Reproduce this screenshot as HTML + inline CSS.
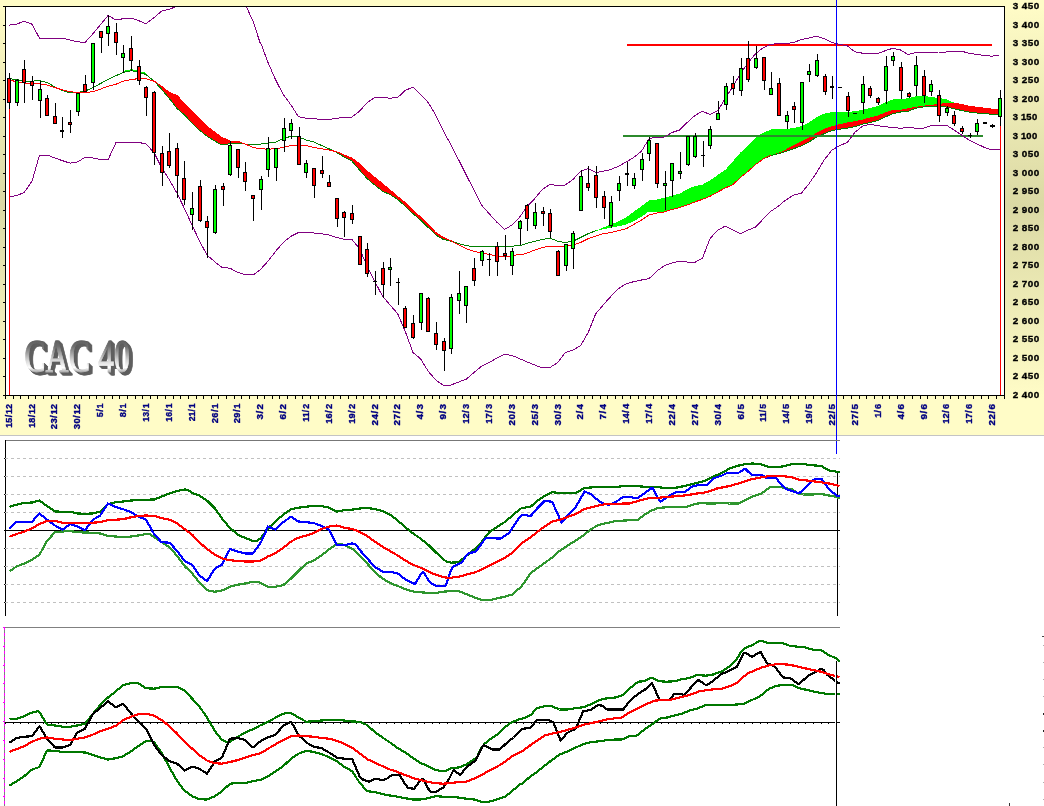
<!DOCTYPE html>
<html lang="fr"><head><meta charset="utf-8"><title>CAC 40</title>
<style>
html,body{margin:0;padding:0;background:#fff;}
body{width:1044px;height:806px;overflow:hidden;font-family:"Liberation Sans",sans-serif;}
svg{display:block;}
.ax{font:bold 9.5px "Liberation Sans",sans-serif;fill:#000;stroke:#000;stroke-width:0.35px;}
.dt{font:bold 9.5px "Liberation Sans",sans-serif;fill:#000080;stroke:#000080;stroke-width:0.35px;}
.wa{font:normal 46px "Liberation Serif",serif;}
</style></head><body>
<svg width="1044" height="806" viewBox="0 0 1044 806">
<defs>
<linearGradient id="bg" x1="0" y1="0" x2="0" y2="1">
<stop offset="0" stop-color="#FFFCC7"/><stop offset="0.014" stop-color="#FFFCC7"/><stop offset="0.47" stop-color="#DBD9A4"/><stop offset="0.915" stop-color="#FFFCC7"/><stop offset="1" stop-color="#FFFCC7"/>
</linearGradient>
<linearGradient id="wa" x1="0" y1="0" x2="0" y2="1">
<stop offset="0" stop-color="#484848"/><stop offset="0.3" stop-color="#6e6e6e"/><stop offset="0.58" stop-color="#d8d8d8"/><stop offset="0.72" stop-color="#ffffff"/><stop offset="0.82" stop-color="#9a9a9a"/><stop offset="1" stop-color="#4a4a4a"/>
</linearGradient>
<filter id="ext" x="-5%" y="-10%" width="115%" height="130%">
<feFlood flood-color="#5e5e5e" result="fc"/>
<feComposite in="fc" in2="SourceAlpha" operator="in" result="sh"/>
<feOffset in="sh" dx="0.72" dy="0.42" result="o0"/>
<feOffset in="sh" dx="1.44" dy="0.85" result="o1"/>
<feOffset in="sh" dx="2.16" dy="1.27" result="o2"/>
<feOffset in="sh" dx="2.88" dy="1.70" result="o3"/>
<feOffset in="sh" dx="3.60" dy="2.12" result="o4"/>
<feOffset in="sh" dx="4.32" dy="2.55" result="o5"/>
<feOffset in="sh" dx="5.04" dy="2.98" result="o6"/>
<feMerge><feMergeNode in="o0"/><feMergeNode in="o1"/><feMergeNode in="o2"/><feMergeNode in="o3"/><feMergeNode in="o4"/><feMergeNode in="o5"/><feMergeNode in="o6"/><feMergeNode in="SourceGraphic"/></feMerge>
</filter>
<clipPath id="cp"><rect x="6" y="7" width="998" height="388"/></clipPath>
</defs>
<rect x="0" y="0" width="1044" height="806" fill="#fff"/>
<rect x="0" y="0" width="1044" height="435" fill="url(#bg)"/>
<rect x="0" y="435" width="1044" height="1" fill="#c4c4c4"/>
<rect x="6" y="7" width="998" height="388" fill="#fff"/>
<g shape-rendering="crispEdges">
<rect x="3" y="6" width="1002" height="1" fill="#000"/>
<rect x="5" y="6" width="1" height="390" fill="#000"/>
<rect x="1004" y="6" width="1" height="390" fill="#000"/>
<rect x="3" y="395" width="1002" height="1" fill="#000"/>
<rect x="3" y="6" width="2" height="1" fill="#000"/>
<rect x="3" y="25" width="2" height="1" fill="#000"/>
<rect x="3" y="43" width="2" height="1" fill="#000"/>
<rect x="3" y="62" width="2" height="1" fill="#000"/>
<rect x="3" y="80" width="2" height="1" fill="#000"/>
<rect x="3" y="99" width="2" height="1" fill="#000"/>
<rect x="3" y="117" width="2" height="1" fill="#000"/>
<rect x="3" y="136" width="2" height="1" fill="#000"/>
<rect x="3" y="154" width="2" height="1" fill="#000"/>
<rect x="3" y="173" width="2" height="1" fill="#000"/>
<rect x="3" y="191" width="2" height="1" fill="#000"/>
<rect x="3" y="210" width="2" height="1" fill="#000"/>
<rect x="3" y="228" width="2" height="1" fill="#000"/>
<rect x="3" y="247" width="2" height="1" fill="#000"/>
<rect x="3" y="265" width="2" height="1" fill="#000"/>
<rect x="3" y="284" width="2" height="1" fill="#000"/>
<rect x="3" y="302" width="2" height="1" fill="#000"/>
<rect x="3" y="321" width="2" height="1" fill="#000"/>
<rect x="3" y="339" width="2" height="1" fill="#000"/>
<rect x="3" y="358" width="2" height="1" fill="#000"/>
<rect x="3" y="376" width="2" height="1" fill="#000"/>
<rect x="3" y="395" width="2" height="1" fill="#000"/>
<rect x="5" y="396" width="1" height="3" fill="#000"/>
<rect x="13" y="396" width="1" height="3" fill="#000"/>
<rect x="20" y="396" width="1" height="3" fill="#000"/>
<rect x="28" y="396" width="1" height="3" fill="#000"/>
<rect x="35" y="396" width="1" height="3" fill="#000"/>
<rect x="43" y="396" width="1" height="3" fill="#000"/>
<rect x="51" y="396" width="1" height="3" fill="#000"/>
<rect x="58" y="396" width="1" height="3" fill="#000"/>
<rect x="66" y="396" width="1" height="3" fill="#000"/>
<rect x="74" y="396" width="1" height="3" fill="#000"/>
<rect x="81" y="396" width="1" height="3" fill="#000"/>
<rect x="89" y="396" width="1" height="3" fill="#000"/>
<rect x="96" y="396" width="1" height="3" fill="#000"/>
<rect x="104" y="396" width="1" height="3" fill="#000"/>
<rect x="112" y="396" width="1" height="3" fill="#000"/>
<rect x="119" y="396" width="1" height="3" fill="#000"/>
<rect x="127" y="396" width="1" height="3" fill="#000"/>
<rect x="135" y="396" width="1" height="3" fill="#000"/>
<rect x="142" y="396" width="1" height="3" fill="#000"/>
<rect x="150" y="396" width="1" height="3" fill="#000"/>
<rect x="157" y="396" width="1" height="3" fill="#000"/>
<rect x="165" y="396" width="1" height="3" fill="#000"/>
<rect x="173" y="396" width="1" height="3" fill="#000"/>
<rect x="180" y="396" width="1" height="3" fill="#000"/>
<rect x="188" y="396" width="1" height="3" fill="#000"/>
<rect x="196" y="396" width="1" height="3" fill="#000"/>
<rect x="203" y="396" width="1" height="3" fill="#000"/>
<rect x="211" y="396" width="1" height="3" fill="#000"/>
<rect x="218" y="396" width="1" height="3" fill="#000"/>
<rect x="226" y="396" width="1" height="3" fill="#000"/>
<rect x="234" y="396" width="1" height="3" fill="#000"/>
<rect x="241" y="396" width="1" height="3" fill="#000"/>
<rect x="249" y="396" width="1" height="3" fill="#000"/>
<rect x="257" y="396" width="1" height="3" fill="#000"/>
<rect x="264" y="396" width="1" height="3" fill="#000"/>
<rect x="272" y="396" width="1" height="3" fill="#000"/>
<rect x="279" y="396" width="1" height="3" fill="#000"/>
<rect x="287" y="396" width="1" height="3" fill="#000"/>
<rect x="295" y="396" width="1" height="3" fill="#000"/>
<rect x="302" y="396" width="1" height="3" fill="#000"/>
<rect x="310" y="396" width="1" height="3" fill="#000"/>
<rect x="318" y="396" width="1" height="3" fill="#000"/>
<rect x="325" y="396" width="1" height="3" fill="#000"/>
<rect x="333" y="396" width="1" height="3" fill="#000"/>
<rect x="340" y="396" width="1" height="3" fill="#000"/>
<rect x="348" y="396" width="1" height="3" fill="#000"/>
<rect x="356" y="396" width="1" height="3" fill="#000"/>
<rect x="363" y="396" width="1" height="3" fill="#000"/>
<rect x="371" y="396" width="1" height="3" fill="#000"/>
<rect x="379" y="396" width="1" height="3" fill="#000"/>
<rect x="386" y="396" width="1" height="3" fill="#000"/>
<rect x="394" y="396" width="1" height="3" fill="#000"/>
<rect x="401" y="396" width="1" height="3" fill="#000"/>
<rect x="409" y="396" width="1" height="3" fill="#000"/>
<rect x="417" y="396" width="1" height="3" fill="#000"/>
<rect x="424" y="396" width="1" height="3" fill="#000"/>
<rect x="432" y="396" width="1" height="3" fill="#000"/>
<rect x="439" y="396" width="1" height="3" fill="#000"/>
<rect x="447" y="396" width="1" height="3" fill="#000"/>
<rect x="455" y="396" width="1" height="3" fill="#000"/>
<rect x="462" y="396" width="1" height="3" fill="#000"/>
<rect x="470" y="396" width="1" height="3" fill="#000"/>
<rect x="478" y="396" width="1" height="3" fill="#000"/>
<rect x="485" y="396" width="1" height="3" fill="#000"/>
<rect x="493" y="396" width="1" height="3" fill="#000"/>
<rect x="500" y="396" width="1" height="3" fill="#000"/>
<rect x="508" y="396" width="1" height="3" fill="#000"/>
<rect x="516" y="396" width="1" height="3" fill="#000"/>
<rect x="523" y="396" width="1" height="3" fill="#000"/>
<rect x="531" y="396" width="1" height="3" fill="#000"/>
<rect x="539" y="396" width="1" height="3" fill="#000"/>
<rect x="546" y="396" width="1" height="3" fill="#000"/>
<rect x="554" y="396" width="1" height="3" fill="#000"/>
<rect x="561" y="396" width="1" height="3" fill="#000"/>
<rect x="569" y="396" width="1" height="3" fill="#000"/>
<rect x="577" y="396" width="1" height="3" fill="#000"/>
<rect x="584" y="396" width="1" height="3" fill="#000"/>
<rect x="592" y="396" width="1" height="3" fill="#000"/>
<rect x="600" y="396" width="1" height="3" fill="#000"/>
<rect x="607" y="396" width="1" height="3" fill="#000"/>
<rect x="615" y="396" width="1" height="3" fill="#000"/>
<rect x="622" y="396" width="1" height="3" fill="#000"/>
<rect x="630" y="396" width="1" height="3" fill="#000"/>
<rect x="638" y="396" width="1" height="3" fill="#000"/>
<rect x="645" y="396" width="1" height="3" fill="#000"/>
<rect x="653" y="396" width="1" height="3" fill="#000"/>
<rect x="661" y="396" width="1" height="3" fill="#000"/>
<rect x="668" y="396" width="1" height="3" fill="#000"/>
<rect x="676" y="396" width="1" height="3" fill="#000"/>
<rect x="683" y="396" width="1" height="3" fill="#000"/>
<rect x="691" y="396" width="1" height="3" fill="#000"/>
<rect x="699" y="396" width="1" height="3" fill="#000"/>
<rect x="706" y="396" width="1" height="3" fill="#000"/>
<rect x="714" y="396" width="1" height="3" fill="#000"/>
<rect x="722" y="396" width="1" height="3" fill="#000"/>
<rect x="729" y="396" width="1" height="3" fill="#000"/>
<rect x="737" y="396" width="1" height="3" fill="#000"/>
<rect x="744" y="396" width="1" height="3" fill="#000"/>
<rect x="752" y="396" width="1" height="3" fill="#000"/>
<rect x="760" y="396" width="1" height="3" fill="#000"/>
<rect x="767" y="396" width="1" height="3" fill="#000"/>
<rect x="775" y="396" width="1" height="3" fill="#000"/>
<rect x="782" y="396" width="1" height="3" fill="#000"/>
<rect x="790" y="396" width="1" height="3" fill="#000"/>
<rect x="798" y="396" width="1" height="3" fill="#000"/>
<rect x="805" y="396" width="1" height="3" fill="#000"/>
<rect x="813" y="396" width="1" height="3" fill="#000"/>
<rect x="821" y="396" width="1" height="3" fill="#000"/>
<rect x="828" y="396" width="1" height="3" fill="#000"/>
<rect x="836" y="396" width="1" height="3" fill="#000"/>
<rect x="843" y="396" width="1" height="3" fill="#000"/>
<rect x="851" y="396" width="1" height="3" fill="#000"/>
<rect x="859" y="396" width="1" height="3" fill="#000"/>
<rect x="866" y="396" width="1" height="3" fill="#000"/>
<rect x="874" y="396" width="1" height="3" fill="#000"/>
<rect x="882" y="396" width="1" height="3" fill="#000"/>
<rect x="889" y="396" width="1" height="3" fill="#000"/>
<rect x="897" y="396" width="1" height="3" fill="#000"/>
<rect x="904" y="396" width="1" height="3" fill="#000"/>
<rect x="912" y="396" width="1" height="3" fill="#000"/>
<rect x="920" y="396" width="1" height="3" fill="#000"/>
<rect x="927" y="396" width="1" height="3" fill="#000"/>
<rect x="935" y="396" width="1" height="3" fill="#000"/>
<rect x="943" y="396" width="1" height="3" fill="#000"/>
<rect x="950" y="396" width="1" height="3" fill="#000"/>
<rect x="958" y="396" width="1" height="3" fill="#000"/>
<rect x="965" y="396" width="1" height="3" fill="#000"/>
<rect x="973" y="396" width="1" height="3" fill="#000"/>
<rect x="981" y="396" width="1" height="3" fill="#000"/>
<rect x="988" y="396" width="1" height="3" fill="#000"/>
<rect x="996" y="396" width="1" height="3" fill="#000"/>
<rect x="1004" y="396" width="1" height="3" fill="#000"/>
</g>
<g clip-path="url(#cp)" shape-rendering="crispEdges">
<polygon points="154.2,81.2 154.2,81.2 161.5,86.2 169.5,92.5 177.2,95.7 184.5,103.7 192.2,111.2 199.2,118.7 207.0,126.2 215.0,132.5 222.0,137.5 230.0,141.0 238.0,141.5 245.0,143.9 245.0,144.0 238.0,143.5 230.0,143.7 222.0,145.0 215.0,141.2 207.0,136.2 199.2,130.0 192.2,123.2 184.5,115.0 177.2,108.7 169.5,98.7 161.5,89.2 154.2,81.2 154.2,81.2" fill="#ff0000"/>
<polygon points="329.0,150.0 329.0,150.0 336.7,151.7 344.2,155.0 352.0,158.2 359.5,163.7 367.2,171.2 374.7,177.5 382.5,183.7 390.0,190.0 397.7,196.5 405.2,202.5 413.0,210.5 420.5,217.0 428.2,224.5 435.7,232.5 443.5,237.5 451.0,240.7 452.0,241.3 452.0,241.5 451.0,241.2 443.5,239.5 435.7,235.0 428.2,227.5 420.5,220.0 413.0,213.7 405.2,206.2 397.7,199.5 390.0,194.5 382.5,191.2 374.7,185.0 367.2,178.7 359.5,170.0 352.0,161.2 344.2,157.0 336.7,152.5 329.0,148.7 329.0,148.7" fill="#ff0000"/>
<polygon points="596.2,230.5 603.2,227.5 611.0,224.5 618.5,221.2 626.2,217.5 633.7,211.7 641.5,206.2 649.0,200.5 656.7,199.5 664.2,197.7 672.0,195.7 679.5,193.7 687.2,189.2 694.7,186.2 702.5,184.5 710.0,180.5 717.7,175.0 725.2,170.0 733.0,161.2 740.5,152.5 748.2,145.0 755.7,137.5 763.5,132.5 771.0,129.5 778.5,128.7 783.0,129.0 793.7,128.2 801.5,126.2 809.0,122.5 816.7,117.0 824.2,113.7 832.0,112.0 839.5,112.0 847.2,112.0 854.7,111.2 862.5,110.0 870.0,108.0 877.7,106.2 885.2,102.5 893.0,99.5 900.5,99.2 908.2,98.2 915.7,96.2 923.5,95.7 931.0,97.0 938.7,98.0 946.2,99.2 954.0,102.6 954.0,102.6 954.0,102.6 954.0,102.6 946.2,103.1 938.7,103.9 931.0,104.8 923.5,105.7 915.7,106.9 908.2,108.3 900.5,109.8 893.0,110.0 885.2,112.5 877.7,115.5 870.0,117.5 862.5,119.5 854.7,121.2 847.2,122.5 839.5,124.2 832.0,126.2 824.2,128.7 816.7,132.5 809.0,137.5 801.5,141.2 793.7,145.0 783.0,151.0 778.5,152.5 771.0,155.0 763.5,158.7 755.7,164.5 748.2,171.2 740.5,177.5 733.0,184.5 725.2,188.0 717.7,192.0 710.0,196.3 702.5,199.3 694.7,202.0 687.2,205.0 679.5,207.5 672.0,209.5 665.9,211.8 657.2,211.6 648.5,211.6 642.3,216.2 634.8,220.5 626.1,224.6 611.1,227.6 596.2,230.8 596.2,230.8" fill="#00ff00"/>
<polygon points="763.5,158.7 763.5,158.7 771.0,155.0 778.5,152.5 783.0,151.0 793.7,145.0 801.5,141.2 809.0,137.5 816.7,132.5 824.2,128.7 832.0,126.2 839.5,124.2 847.2,122.5 854.7,121.2 862.5,119.5 870.0,117.5 877.7,115.5 885.2,112.5 893.0,110.0 900.5,109.8 908.2,108.3 915.7,106.9 923.5,105.7 931.0,104.8 938.7,103.9 946.2,103.1 954.0,102.6 961.5,103.9 969.0,105.8 976.7,106.7 984.5,107.7 992.0,108.6 999.5,109.3 999.5,109.3 999.5,114.2 999.5,114.2 992.0,114.2 984.5,113.7 976.7,113.0 969.0,112.0 961.5,110.5 954.0,108.7 946.2,107.0 938.7,106.2 931.0,106.2 923.5,107.0 915.7,108.2 908.2,111.2 900.5,112.0 893.0,113.7 885.2,117.0 877.7,120.7 870.0,122.5 862.5,124.2 854.7,126.7 847.2,128.2 839.5,129.2 832.0,130.5 824.2,133.7 816.7,137.0 809.0,142.0 801.5,145.7 793.7,148.7 783.0,152.5 778.5,153.5 771.0,155.5 763.5,158.7 763.5,158.7" fill="#ff0000"/>
<polyline points="763.5,158.7 771.0,155.5 778.5,153.5 783.0,152.5 793.7,148.7 801.5,145.7 809.0,142.0 816.7,137.0 824.2,133.7 832.0,130.5 839.5,129.2 847.2,128.2 854.7,126.7 862.5,124.2 870.0,122.5 877.7,120.7 885.2,117.0 893.0,113.7 900.5,112.0 908.2,111.2 915.7,108.2 923.5,107.0 931.0,106.2 938.7,106.2 946.2,107.0 954.0,108.7 961.5,110.5 969.0,112.0 976.7,113.0 984.5,113.7 992.0,114.2 999.5,114.2" fill="none" stroke="#008000" stroke-width="1"/>
<polyline points="123.2,71.5 131.2,69.7 138.2,71.0 146.0,73.5" fill="none" stroke="#00ff00" stroke-width="1"/>
<polyline points="9.0,78.7 16.5,79.5 24.2,81.2 32.0,81.2 39.5,80.5 47.0,82.5 55.0,87.0 62.5,90.5 70.2,93.0 77.2,92.5 85.0,91.2 93.0,87.5 100.2,83.7 108.0,79.5 116.0,75.7 123.2,72.5 131.2,70.7 138.2,72.0 146.0,74.5 154.2,81.2 161.5,89.2 169.5,98.7 177.2,108.7 184.5,115.0 192.2,123.2 199.2,130.0 207.0,136.2 215.0,141.2 222.0,145.0 230.0,143.7 238.0,143.5 245.2,144.0 253.0,145.0 260.0,144.2 268.0,143.0 275.7,142.0 283.2,138.7 291.0,136.2 298.5,137.0 306.2,140.0 313.7,142.0 321.5,145.5 329.0,148.7 336.7,152.5 344.2,157.0 352.0,161.2 359.5,170.0 367.2,178.7 374.7,185.0 382.5,191.2 390.0,194.5 397.7,199.5 405.2,206.2 413.0,213.7 420.5,220.0 428.2,227.5 435.7,235.0 443.5,239.5 451.0,241.2 458.7,243.7 466.2,245.7 474.0,246.5 481.5,246.2 489.2,246.2 496.7,246.2 504.5,246.7 512.0,246.2 519.7,245.5 522.0,245.0 527.2,243.2 534.7,241.2 542.5,239.5 550.0,238.2 557.7,241.2 565.2,242.5 573.0,241.2 580.5,237.5 588.2,233.7 595.7,230.7" fill="none" stroke="#008000" stroke-width="1"/>
<polyline points="9.0,80.0 16.5,81.7 24.2,83.0 32.0,83.2 39.5,83.7 47.0,85.0 55.0,87.5 62.5,90.0 70.2,91.7 77.2,92.5 85.0,92.5 93.0,91.7 100.2,89.2 108.0,86.2 116.0,84.2 123.2,81.2 131.2,79.5 138.2,78.7 146.0,78.7 154.2,81.2 161.5,86.2 169.5,92.5 177.2,95.7 184.5,103.7 192.2,111.2 199.2,118.7 207.0,126.2 215.0,132.5 222.0,137.5 230.0,141.0 238.0,141.5 245.2,144.0 253.0,147.5 260.0,148.7 268.0,149.2 275.7,148.7 283.2,147.5 291.0,145.5 298.5,145.0 306.2,145.5 313.7,147.5 321.5,148.7 329.0,150.0 336.7,151.7 344.2,155.0 352.0,158.2 359.5,163.7 367.2,171.2 374.7,177.5 382.5,183.7 390.0,190.0 397.7,196.5 405.2,202.5 413.0,210.5 420.5,217.0 428.2,224.5 435.7,232.5 443.5,237.5 451.0,240.7 458.7,245.0 466.2,248.7 474.0,251.2 481.5,253.0 489.2,254.5 496.7,255.7 504.5,256.7 512.0,255.7 519.7,254.5 522.0,254.5 527.2,253.0 534.7,250.0 542.5,247.5 550.0,246.2 557.7,246.7 565.2,246.2 573.0,245.0 580.5,242.5 588.2,238.7 595.7,236.2 603.2,233.7 611.0,232.5 618.5,230.7 626.2,228.7 633.7,224.5 641.5,220.0 649.0,215.0 656.7,213.0 664.2,212.0 672.0,209.5 679.5,207.5 687.2,205.0 694.7,202.0 702.5,199.3 710.0,196.3 717.7,192.0 725.2,188.0 733.0,184.5 740.5,177.5 748.2,171.2 755.7,164.5 763.5,158.7 771.0,155.0" fill="none" stroke="#ff0000" stroke-width="1"/>
<rect x="627" y="44" width="365" height="2" fill="#ff0000"/>
<rect x="623" y="135" width="360" height="2" fill="#2c8a2c"/>
<polyline points="9.0,25.2 16.5,24.2 24.2,21.2 32.0,24.2 39.5,38.2 47.0,38.2 62.5,38.2 70.2,40.0 77.2,41.7 85.0,42.5 93.0,33.7 100.2,25.0 108.0,15.5 116.0,20.0 123.2,18.7 131.2,18.2 138.2,20.5 146.0,23.7 154.2,17.5 161.5,11.2 169.5,9.2 177.2,6.2 185.0,3.0" fill="none" stroke="#800080" stroke-width="1"/>
<polyline points="244.0,3.0 246.2,6.2 253.0,21.2 260.0,42.5 261.0,43.7 268.0,62.5 275.7,80.0 283.2,94.5 291.0,105.0 298.5,116.7 306.2,118.2 313.7,118.7 321.5,119.5 329.0,119.5 336.7,118.2 344.2,117.5 352.0,117.0 359.5,111.2 367.2,102.5 374.7,97.5 382.5,97.5 390.0,98.2 397.7,97.5 405.2,90.5 413.0,87.0 420.5,94.5 428.2,102.5 435.7,115.0 443.5,131.2 451.0,145.0 458.7,160.0 466.2,175.0 474.0,190.0 481.5,205.0 489.2,213.7 496.7,222.0 504.5,229.5 512.0,225.0 519.7,217.0 522.0,213.7 527.2,206.2 534.7,198.7 542.5,189.2 550.0,184.5 557.7,185.5 565.2,185.0 573.0,179.5 580.5,171.2 588.2,168.7 595.7,172.5 603.2,171.2 611.0,169.5 618.5,166.2 626.2,162.0 633.7,157.5 641.5,151.2 649.0,138.7 656.7,137.0 664.2,137.0 672.0,132.5 679.5,130.0 687.2,122.5 694.7,115.7 702.5,111.2 710.0,114.5 717.7,110.7 725.2,98.7 733.0,86.2 740.5,73.7 748.2,62.5 755.7,53.7 763.5,47.5 771.0,44.2 778.5,43.7 783.0,44.0 793.7,42.5 801.5,39.5 809.0,38.0 816.7,36.2 824.2,38.7 832.0,42.5 839.5,44.5 847.2,45.7 854.7,51.7 862.5,53.2 870.0,53.7 877.7,53.7 885.2,50.7 893.0,48.2 900.5,50.0 908.2,54.5 915.7,52.5 923.5,52.5 931.0,52.5 938.7,52.0 946.2,52.0 954.0,51.2 961.5,51.2 969.0,53.2 976.7,54.5 984.5,55.5 992.0,56.2 999.5,55.0" fill="none" stroke="#800080" stroke-width="1"/>
<polyline points="9.0,196.7 16.5,195.7 24.2,192.5 32.0,181.2 39.5,155.0 47.0,155.0 55.0,158.0 62.5,160.7 70.2,163.2 77.2,162.0 85.0,157.5 93.0,158.0 100.2,159.5 108.0,160.0 116.0,142.5 123.2,142.5 131.2,142.5 138.2,142.5 146.0,143.7 154.2,153.0 161.5,167.5 169.5,180.0 177.2,193.5 184.5,208.7 192.0,225.0 199.0,240.0 207.0,255.0 215.0,262.0 222.0,267.5 230.0,268.2 238.0,272.5 245.0,274.5 253.0,275.0 260.0,270.0 268.0,261.2 275.7,251.2 283.2,242.5 291.0,236.2 298.5,232.5 306.2,232.5 313.7,233.0 321.5,233.7 329.0,235.0 336.7,237.5 344.2,239.2 352.0,239.5 359.5,248.7 367.2,266.2 374.7,281.2 382.5,296.2 390.0,305.0 397.7,313.7 405.2,331.2 413.0,352.5 420.5,358.7 428.2,371.2 435.7,380.0 443.5,385.5 451.0,385.0 458.7,382.0 466.2,379.2 474.0,372.5 481.5,366.2 489.2,362.5 496.7,358.2 504.5,354.2 512.0,355.5 519.7,358.7 527.2,362.0 534.7,365.0 542.5,368.0 550.0,367.5 557.7,362.5 565.2,352.5 573.0,350.0 580.5,345.7 588.2,332.5 595.7,313.7 603.2,305.0 611.0,296.2 618.5,288.7 626.2,283.7 633.7,281.7 641.5,280.0 649.0,278.7 656.7,271.2 664.2,265.7 672.0,263.0 679.5,261.2 687.2,262.0 694.7,262.5 702.5,258.0 710.0,238.7 717.7,230.0 725.2,226.2 733.0,230.0 740.5,233.7 748.2,230.0 755.7,227.0 763.5,218.7 771.0,211.2 778.5,206.2 783.0,202.0 793.7,195.0 801.5,193.0 809.0,183.7 816.7,172.5 824.2,160.0 832.0,150.0 839.5,145.7 847.2,142.5 854.7,132.5 862.5,126.2 870.0,124.2 877.7,125.7 885.2,126.7 893.0,127.5 900.5,128.2 908.2,127.5 915.7,128.2 923.5,128.2 931.0,125.7 938.7,125.0 946.2,125.0 954.0,130.0 961.5,135.0 969.0,140.0 976.7,143.7 984.5,147.5 992.0,150.0 999.5,149.2" fill="none" stroke="#800080" stroke-width="1"/>
<rect x="9" y="108" width="1" height="287" fill="#ff0000"/>
<rect x="1000" y="126" width="1" height="269" fill="#ff0000"/>
<rect x="9" y="73.2" width="1" height="35.5" fill="#000"/>
<rect x="7" y="77.5" width="4" height="25.7" fill="#000"/>
<rect x="8" y="78.5" width="2" height="23.7" fill="#ff0000"/>
<rect x="17" y="79.0" width="1" height="27.2" fill="#000"/>
<rect x="15" y="79.5" width="4" height="23.5" fill="#000"/>
<rect x="16" y="80.5" width="2" height="21.5" fill="#00ff00"/>
<rect x="24" y="60.0" width="1" height="42.5" fill="#000"/>
<rect x="22" y="68.5" width="4" height="14.0" fill="#000"/>
<rect x="23" y="69.5" width="2" height="12.0" fill="#ff0000"/>
<rect x="32" y="76.2" width="1" height="23.3" fill="#000"/>
<rect x="30" y="81.2" width="4" height="4.3" fill="#000"/>
<rect x="31" y="82.2" width="2" height="2.3" fill="#ff0000"/>
<rect x="40" y="80.5" width="1" height="37.0" fill="#000"/>
<rect x="38" y="89.2" width="4" height="12.0" fill="#000"/>
<rect x="39" y="90.2" width="2" height="10.0" fill="#00ff00"/>
<rect x="47" y="95.0" width="1" height="21.2" fill="#000"/>
<rect x="45" y="98.2" width="4" height="18.0" fill="#000"/>
<rect x="46" y="99.2" width="2" height="16.0" fill="#ff0000"/>
<rect x="55" y="103.2" width="1" height="21.0" fill="#000"/>
<rect x="53" y="116.2" width="4" height="8.0" fill="#000"/>
<rect x="54" y="117.2" width="2" height="6.0" fill="#ff0000"/>
<rect x="62" y="117.0" width="1" height="20.5" fill="#000"/>
<rect x="60" y="130.2" width="4" height="1.3" fill="#000"/>
<rect x="70" y="110.0" width="1" height="23.2" fill="#000"/>
<rect x="68" y="121.5" width="4" height="3.0" fill="#000"/>
<rect x="69" y="122.5" width="2" height="1.0" fill="#ff0000"/>
<rect x="78" y="92.5" width="1" height="23.7" fill="#000"/>
<rect x="76" y="92.5" width="4" height="19.5" fill="#000"/>
<rect x="77" y="93.5" width="2" height="17.5" fill="#00ff00"/>
<rect x="85" y="75.0" width="1" height="16.7" fill="#000"/>
<rect x="83" y="83.5" width="4" height="8.2" fill="#000"/>
<rect x="84" y="84.5" width="2" height="6.2" fill="#ff0000"/>
<rect x="93" y="43.2" width="1" height="46.8" fill="#000"/>
<rect x="91" y="43.2" width="4" height="40.0" fill="#000"/>
<rect x="92" y="44.2" width="2" height="38.0" fill="#00ff00"/>
<rect x="101" y="31.2" width="1" height="21.3" fill="#000"/>
<rect x="99" y="31.2" width="4" height="7.0" fill="#000"/>
<rect x="100" y="32.2" width="2" height="5.0" fill="#ff0000"/>
<rect x="108" y="15.0" width="1" height="31.2" fill="#000"/>
<rect x="106" y="26.2" width="4" height="8.0" fill="#000"/>
<rect x="107" y="27.2" width="2" height="6.0" fill="#00ff00"/>
<rect x="116" y="23.2" width="1" height="31.3" fill="#000"/>
<rect x="114" y="32.0" width="4" height="11.2" fill="#000"/>
<rect x="115" y="33.0" width="2" height="9.2" fill="#ff0000"/>
<rect x="123" y="44.5" width="1" height="28.0" fill="#000"/>
<rect x="121" y="53.2" width="4" height="4.3" fill="#000"/>
<rect x="122" y="54.2" width="2" height="2.3" fill="#00ff00"/>
<rect x="131" y="36.2" width="1" height="35.0" fill="#000"/>
<rect x="129" y="48.2" width="4" height="13.0" fill="#000"/>
<rect x="130" y="49.2" width="2" height="11.0" fill="#ff0000"/>
<rect x="139" y="60.0" width="1" height="24.5" fill="#000"/>
<rect x="137" y="66.2" width="4" height="15.0" fill="#000"/>
<rect x="138" y="67.2" width="2" height="13.0" fill="#ff0000"/>
<rect x="146" y="86.2" width="1" height="29.3" fill="#000"/>
<rect x="144" y="87.0" width="4" height="11.2" fill="#000"/>
<rect x="145" y="88.0" width="2" height="9.2" fill="#ff0000"/>
<rect x="154" y="91.2" width="1" height="73.8" fill="#000"/>
<rect x="152" y="92.0" width="4" height="60.5" fill="#000"/>
<rect x="153" y="93.0" width="2" height="58.5" fill="#ff0000"/>
<rect x="162" y="146.2" width="1" height="40.0" fill="#000"/>
<rect x="160" y="152.5" width="4" height="20.7" fill="#000"/>
<rect x="161" y="153.5" width="2" height="18.7" fill="#ff0000"/>
<rect x="169" y="133.0" width="1" height="35.0" fill="#000"/>
<rect x="167" y="151.2" width="4" height="15.0" fill="#000"/>
<rect x="168" y="152.2" width="2" height="13.0" fill="#ff0000"/>
<rect x="177" y="142.5" width="1" height="55.0" fill="#000"/>
<rect x="175" y="147.5" width="4" height="28.7" fill="#000"/>
<rect x="176" y="148.5" width="2" height="26.7" fill="#ff0000"/>
<rect x="184" y="161.2" width="1" height="43.3" fill="#000"/>
<rect x="182" y="178.2" width="4" height="21.3" fill="#000"/>
<rect x="183" y="179.2" width="2" height="19.3" fill="#ff0000"/>
<rect x="192" y="192.0" width="1" height="38.0" fill="#000"/>
<rect x="190" y="208.0" width="4" height="6.5" fill="#000"/>
<rect x="191" y="209.0" width="2" height="4.5" fill="#00ff00"/>
<rect x="200" y="180.0" width="1" height="42.0" fill="#000"/>
<rect x="198" y="186.2" width="4" height="34.5" fill="#000"/>
<rect x="199" y="187.2" width="2" height="32.5" fill="#ff0000"/>
<rect x="207" y="215.7" width="1" height="41.8" fill="#000"/>
<rect x="205" y="221.0" width="4" height="7.0" fill="#000"/>
<rect x="206" y="222.0" width="2" height="5.0" fill="#ff0000"/>
<rect x="215" y="185.0" width="1" height="48.5" fill="#000"/>
<rect x="213" y="189.0" width="4" height="44.0" fill="#000"/>
<rect x="214" y="190.0" width="2" height="42.0" fill="#00ff00"/>
<rect x="223" y="183.2" width="1" height="22.8" fill="#000"/>
<rect x="221" y="186.0" width="4" height="4.0" fill="#000"/>
<rect x="222" y="187.0" width="2" height="2.0" fill="#ff0000"/>
<rect x="230" y="141.2" width="1" height="35.0" fill="#000"/>
<rect x="228" y="145.0" width="4" height="30.0" fill="#000"/>
<rect x="229" y="146.0" width="2" height="28.0" fill="#00ff00"/>
<rect x="238" y="149.2" width="1" height="28.3" fill="#000"/>
<rect x="236" y="149.2" width="4" height="18.8" fill="#000"/>
<rect x="237" y="150.2" width="2" height="16.8" fill="#ff0000"/>
<rect x="245" y="162.0" width="1" height="28.8" fill="#000"/>
<rect x="243" y="172.3" width="4" height="9.2" fill="#000"/>
<rect x="244" y="173.3" width="2" height="7.2" fill="#ff0000"/>
<rect x="253" y="195.0" width="1" height="26.0" fill="#000"/>
<rect x="251" y="195.0" width="4" height="3.7" fill="#000"/>
<rect x="252" y="196.0" width="2" height="1.7" fill="#ff0000"/>
<rect x="261" y="176.2" width="1" height="33.3" fill="#000"/>
<rect x="259" y="178.7" width="4" height="11.3" fill="#000"/>
<rect x="260" y="179.7" width="2" height="9.3" fill="#00ff00"/>
<rect x="268" y="137.0" width="1" height="40.0" fill="#000"/>
<rect x="266" y="147.5" width="4" height="22.0" fill="#000"/>
<rect x="267" y="148.5" width="2" height="20.0" fill="#00ff00"/>
<rect x="276" y="147.5" width="1" height="33.2" fill="#000"/>
<rect x="274" y="148.2" width="4" height="19.3" fill="#000"/>
<rect x="275" y="149.2" width="2" height="17.3" fill="#00ff00"/>
<rect x="284" y="118.0" width="1" height="33.7" fill="#000"/>
<rect x="282" y="127.5" width="4" height="13.0" fill="#000"/>
<rect x="283" y="128.5" width="2" height="11.0" fill="#00ff00"/>
<rect x="291" y="118.7" width="1" height="20.0" fill="#000"/>
<rect x="289" y="123.2" width="4" height="7.3" fill="#000"/>
<rect x="290" y="124.2" width="2" height="5.3" fill="#00ff00"/>
<rect x="299" y="127.0" width="1" height="37.5" fill="#000"/>
<rect x="297" y="135.5" width="4" height="29.0" fill="#000"/>
<rect x="298" y="136.5" width="2" height="27.0" fill="#ff0000"/>
<rect x="306" y="160.0" width="1" height="18.0" fill="#000"/>
<rect x="304" y="162.5" width="4" height="10.0" fill="#000"/>
<rect x="305" y="163.5" width="2" height="8.0" fill="#00ff00"/>
<rect x="314" y="168.0" width="1" height="29.5" fill="#000"/>
<rect x="312" y="168.0" width="4" height="17.5" fill="#000"/>
<rect x="313" y="169.0" width="2" height="15.5" fill="#ff0000"/>
<rect x="322" y="156.2" width="1" height="21.8" fill="#000"/>
<rect x="320" y="170.0" width="4" height="3.7" fill="#000"/>
<rect x="321" y="171.0" width="2" height="1.7" fill="#ff0000"/>
<rect x="329" y="175.0" width="1" height="11.7" fill="#000"/>
<rect x="327" y="182.0" width="4" height="4.7" fill="#000"/>
<rect x="328" y="183.0" width="2" height="2.7" fill="#ff0000"/>
<rect x="337" y="197.5" width="1" height="29.2" fill="#000"/>
<rect x="335" y="198.2" width="4" height="20.5" fill="#000"/>
<rect x="336" y="199.2" width="2" height="18.5" fill="#ff0000"/>
<rect x="344" y="210.5" width="1" height="26.2" fill="#000"/>
<rect x="342" y="211.7" width="4" height="6.5" fill="#000"/>
<rect x="343" y="212.7" width="2" height="4.5" fill="#ff0000"/>
<rect x="352" y="205.0" width="1" height="18.7" fill="#000"/>
<rect x="350" y="212.5" width="4" height="7.0" fill="#000"/>
<rect x="351" y="213.5" width="2" height="5.0" fill="#ff0000"/>
<rect x="360" y="236.2" width="1" height="28.3" fill="#000"/>
<rect x="358" y="236.2" width="4" height="28.3" fill="#000"/>
<rect x="359" y="237.2" width="2" height="26.3" fill="#ff0000"/>
<rect x="367" y="243.0" width="1" height="33.7" fill="#000"/>
<rect x="365" y="249.2" width="4" height="24.5" fill="#000"/>
<rect x="366" y="250.2" width="2" height="22.5" fill="#ff0000"/>
<rect x="375" y="271.2" width="1" height="23.8" fill="#000"/>
<rect x="373" y="280.5" width="4" height="1.2" fill="#000"/>
<rect x="383" y="262.0" width="1" height="36.0" fill="#000"/>
<rect x="381" y="267.5" width="4" height="17.0" fill="#000"/>
<rect x="382" y="268.5" width="2" height="15.0" fill="#ff0000"/>
<rect x="390" y="258.0" width="1" height="27.7" fill="#000"/>
<rect x="388" y="267.2" width="4" height="3.0" fill="#000"/>
<rect x="389" y="268.2" width="2" height="1.0" fill="#00ff00"/>
<rect x="398" y="278.0" width="1" height="27.0" fill="#000"/>
<rect x="396" y="282.0" width="4" height="1.2" fill="#000"/>
<rect x="405" y="306.2" width="1" height="21.3" fill="#000"/>
<rect x="403" y="307.5" width="4" height="20.0" fill="#000"/>
<rect x="404" y="308.5" width="2" height="18.0" fill="#ff0000"/>
<rect x="413" y="315.0" width="1" height="23.7" fill="#000"/>
<rect x="411" y="322.5" width="4" height="15.5" fill="#000"/>
<rect x="412" y="323.5" width="2" height="13.5" fill="#ff0000"/>
<rect x="421" y="293.2" width="1" height="36.8" fill="#000"/>
<rect x="419" y="293.2" width="4" height="29.3" fill="#000"/>
<rect x="420" y="294.2" width="2" height="27.3" fill="#00ff00"/>
<rect x="428" y="297.0" width="1" height="34.7" fill="#000"/>
<rect x="426" y="298.0" width="4" height="33.7" fill="#000"/>
<rect x="427" y="299.0" width="2" height="31.7" fill="#ff0000"/>
<rect x="436" y="322.0" width="1" height="28.0" fill="#000"/>
<rect x="434" y="333.2" width="4" height="11.3" fill="#000"/>
<rect x="435" y="334.2" width="2" height="9.3" fill="#ff0000"/>
<rect x="444" y="338.0" width="1" height="32.7" fill="#000"/>
<rect x="442" y="341.2" width="4" height="9.3" fill="#000"/>
<rect x="443" y="342.2" width="2" height="7.3" fill="#ff0000"/>
<rect x="451" y="294.2" width="1" height="59.5" fill="#000"/>
<rect x="449" y="297.0" width="4" height="52.2" fill="#000"/>
<rect x="450" y="298.0" width="2" height="50.2" fill="#00ff00"/>
<rect x="459" y="271.2" width="1" height="42.5" fill="#000"/>
<rect x="457" y="293.2" width="4" height="7.3" fill="#000"/>
<rect x="458" y="294.2" width="2" height="5.3" fill="#00ff00"/>
<rect x="466" y="285.5" width="1" height="37.5" fill="#000"/>
<rect x="464" y="286.2" width="4" height="20.0" fill="#000"/>
<rect x="465" y="287.2" width="2" height="18.0" fill="#00ff00"/>
<rect x="474" y="257.5" width="1" height="28.2" fill="#000"/>
<rect x="472" y="267.5" width="4" height="13.7" fill="#000"/>
<rect x="473" y="268.5" width="2" height="11.7" fill="#ff0000"/>
<rect x="482" y="250.0" width="1" height="15.7" fill="#000"/>
<rect x="480" y="250.5" width="4" height="10.0" fill="#000"/>
<rect x="481" y="251.5" width="2" height="8.0" fill="#00ff00"/>
<rect x="489" y="253.0" width="1" height="22.7" fill="#000"/>
<rect x="487" y="259.2" width="4" height="1.2" fill="#000"/>
<rect x="497" y="241.7" width="1" height="34.0" fill="#000"/>
<rect x="495" y="245.5" width="4" height="16.0" fill="#000"/>
<rect x="496" y="246.5" width="2" height="14.0" fill="#ff0000"/>
<rect x="505" y="235.0" width="1" height="25.0" fill="#000"/>
<rect x="503" y="252.5" width="4" height="3.0" fill="#000"/>
<rect x="504" y="253.5" width="2" height="1.0" fill="#ff0000"/>
<rect x="512" y="248.2" width="1" height="26.8" fill="#000"/>
<rect x="510" y="250.5" width="4" height="15.0" fill="#000"/>
<rect x="511" y="251.5" width="2" height="13.0" fill="#00ff00"/>
<rect x="520" y="220.0" width="1" height="25.0" fill="#000"/>
<rect x="518" y="221.2" width="4" height="8.0" fill="#000"/>
<rect x="519" y="222.2" width="2" height="6.0" fill="#00ff00"/>
<rect x="527" y="203.7" width="1" height="27.5" fill="#000"/>
<rect x="525" y="204.5" width="4" height="14.2" fill="#000"/>
<rect x="526" y="205.5" width="2" height="12.2" fill="#ff0000"/>
<rect x="535" y="203.2" width="1" height="25.5" fill="#000"/>
<rect x="533" y="212.0" width="4" height="14.2" fill="#000"/>
<rect x="534" y="213.0" width="2" height="12.2" fill="#00ff00"/>
<rect x="543" y="206.7" width="1" height="18.8" fill="#000"/>
<rect x="541" y="210.5" width="4" height="3.0" fill="#000"/>
<rect x="542" y="211.5" width="2" height="1.0" fill="#ff0000"/>
<rect x="550" y="209.2" width="1" height="28.8" fill="#000"/>
<rect x="548" y="213.0" width="4" height="18.7" fill="#000"/>
<rect x="549" y="214.0" width="2" height="16.7" fill="#ff0000"/>
<rect x="558" y="249.5" width="1" height="26.7" fill="#000"/>
<rect x="556" y="251.2" width="4" height="25.0" fill="#000"/>
<rect x="557" y="252.2" width="2" height="23.0" fill="#ff0000"/>
<rect x="566" y="244.2" width="1" height="26.5" fill="#000"/>
<rect x="564" y="244.2" width="4" height="22.0" fill="#000"/>
<rect x="565" y="245.2" width="2" height="20.0" fill="#00ff00"/>
<rect x="573" y="231.2" width="1" height="37.5" fill="#000"/>
<rect x="571" y="232.5" width="4" height="16.7" fill="#000"/>
<rect x="572" y="233.5" width="2" height="14.7" fill="#00ff00"/>
<rect x="581" y="170.0" width="1" height="40.5" fill="#000"/>
<rect x="579" y="176.2" width="4" height="34.3" fill="#000"/>
<rect x="580" y="177.2" width="2" height="32.3" fill="#00ff00"/>
<rect x="588" y="166.2" width="1" height="25.0" fill="#000"/>
<rect x="586" y="183.2" width="4" height="4.3" fill="#000"/>
<rect x="587" y="184.2" width="2" height="2.3" fill="#ff0000"/>
<rect x="596" y="166.2" width="1" height="41.3" fill="#000"/>
<rect x="594" y="175.0" width="4" height="23.0" fill="#000"/>
<rect x="595" y="176.0" width="2" height="21.0" fill="#ff0000"/>
<rect x="604" y="191.2" width="1" height="27.5" fill="#000"/>
<rect x="602" y="196.2" width="4" height="12.0" fill="#000"/>
<rect x="603" y="197.2" width="2" height="10.0" fill="#ff0000"/>
<rect x="611" y="196.0" width="1" height="32.2" fill="#000"/>
<rect x="609" y="202.0" width="4" height="23.5" fill="#000"/>
<rect x="610" y="203.0" width="2" height="21.5" fill="#00ff00"/>
<rect x="619" y="176.2" width="1" height="24.3" fill="#000"/>
<rect x="617" y="182.5" width="4" height="8.2" fill="#000"/>
<rect x="618" y="183.5" width="2" height="6.2" fill="#00ff00"/>
<rect x="627" y="161.7" width="1" height="24.5" fill="#000"/>
<rect x="625" y="173.0" width="4" height="2.0" fill="#000"/>
<rect x="634" y="172.5" width="1" height="16.2" fill="#000"/>
<rect x="632" y="178.2" width="4" height="7.3" fill="#000"/>
<rect x="633" y="179.2" width="2" height="5.3" fill="#00ff00"/>
<rect x="642" y="153.0" width="1" height="27.5" fill="#000"/>
<rect x="640" y="159.2" width="4" height="10.3" fill="#000"/>
<rect x="641" y="160.2" width="2" height="8.3" fill="#00ff00"/>
<rect x="649" y="137.0" width="1" height="24.2" fill="#000"/>
<rect x="647" y="139.5" width="4" height="14.7" fill="#000"/>
<rect x="648" y="140.5" width="2" height="12.7" fill="#00ff00"/>
<rect x="657" y="142.5" width="1" height="45.0" fill="#000"/>
<rect x="655" y="143.2" width="4" height="40.5" fill="#000"/>
<rect x="656" y="144.2" width="2" height="38.5" fill="#ff0000"/>
<rect x="665" y="171.2" width="1" height="38.3" fill="#000"/>
<rect x="663" y="182.5" width="4" height="3.0" fill="#000"/>
<rect x="664" y="183.5" width="2" height="1.0" fill="#00ff00"/>
<rect x="672" y="163.2" width="1" height="33.8" fill="#000"/>
<rect x="670" y="163.2" width="4" height="18.0" fill="#000"/>
<rect x="671" y="164.2" width="2" height="16.0" fill="#00ff00"/>
<rect x="680" y="151.7" width="1" height="27.0" fill="#000"/>
<rect x="678" y="170.5" width="4" height="3.0" fill="#000"/>
<rect x="679" y="171.5" width="2" height="1.0" fill="#00ff00"/>
<rect x="688" y="136.2" width="1" height="29.3" fill="#000"/>
<rect x="686" y="136.2" width="4" height="28.8" fill="#000"/>
<rect x="687" y="137.2" width="2" height="26.8" fill="#00ff00"/>
<rect x="695" y="132.5" width="1" height="25.0" fill="#000"/>
<rect x="693" y="136.2" width="4" height="20.5" fill="#000"/>
<rect x="694" y="137.2" width="2" height="18.5" fill="#00ff00"/>
<rect x="703" y="141.2" width="1" height="25.5" fill="#000"/>
<rect x="701" y="154.5" width="4" height="1.2" fill="#000"/>
<rect x="710" y="126.2" width="1" height="22.5" fill="#000"/>
<rect x="708" y="129.2" width="4" height="16.3" fill="#000"/>
<rect x="709" y="130.2" width="2" height="14.3" fill="#00ff00"/>
<rect x="718" y="101.2" width="1" height="18.3" fill="#000"/>
<rect x="716" y="113.2" width="4" height="6.3" fill="#000"/>
<rect x="717" y="114.2" width="2" height="4.3" fill="#00ff00"/>
<rect x="726" y="83.2" width="1" height="26.3" fill="#000"/>
<rect x="724" y="85.5" width="4" height="19.5" fill="#000"/>
<rect x="725" y="86.5" width="2" height="17.5" fill="#00ff00"/>
<rect x="733" y="76.2" width="1" height="18.3" fill="#000"/>
<rect x="731" y="82.5" width="4" height="6.2" fill="#000"/>
<rect x="732" y="83.5" width="2" height="4.2" fill="#ff0000"/>
<rect x="741" y="58.2" width="1" height="37.3" fill="#000"/>
<rect x="739" y="68.2" width="4" height="22.3" fill="#000"/>
<rect x="740" y="69.2" width="2" height="20.3" fill="#00ff00"/>
<rect x="748" y="40.7" width="1" height="41.0" fill="#000"/>
<rect x="746" y="58.2" width="4" height="21.3" fill="#000"/>
<rect x="747" y="59.2" width="2" height="19.3" fill="#ff0000"/>
<rect x="756" y="45.7" width="1" height="23.0" fill="#000"/>
<rect x="754" y="57.5" width="4" height="10.0" fill="#000"/>
<rect x="755" y="58.5" width="2" height="8.0" fill="#00ff00"/>
<rect x="764" y="57.0" width="1" height="32.5" fill="#000"/>
<rect x="762" y="57.0" width="4" height="23.5" fill="#000"/>
<rect x="763" y="58.0" width="2" height="21.5" fill="#ff0000"/>
<rect x="771" y="72.0" width="1" height="22.5" fill="#000"/>
<rect x="769" y="87.5" width="4" height="7.0" fill="#000"/>
<rect x="770" y="88.5" width="2" height="5.0" fill="#00ff00"/>
<rect x="779" y="78.0" width="1" height="37.5" fill="#000"/>
<rect x="777" y="83.2" width="4" height="32.3" fill="#000"/>
<rect x="778" y="84.2" width="2" height="30.3" fill="#ff0000"/>
<rect x="787" y="111.2" width="1" height="17.5" fill="#000"/>
<rect x="785" y="115.0" width="4" height="6.7" fill="#000"/>
<rect x="786" y="116.0" width="2" height="4.7" fill="#00ff00"/>
<rect x="794" y="101.7" width="1" height="20.8" fill="#000"/>
<rect x="792" y="106.2" width="4" height="3.3" fill="#000"/>
<rect x="793" y="107.2" width="2" height="1.3" fill="#ff0000"/>
<rect x="802" y="82.0" width="1" height="48.0" fill="#000"/>
<rect x="800" y="82.0" width="4" height="40.5" fill="#000"/>
<rect x="801" y="83.0" width="2" height="38.5" fill="#00ff00"/>
<rect x="809" y="63.7" width="1" height="18.0" fill="#000"/>
<rect x="807" y="71.2" width="4" height="3.3" fill="#000"/>
<rect x="808" y="72.2" width="2" height="1.3" fill="#00ff00"/>
<rect x="817" y="53.7" width="1" height="23.0" fill="#000"/>
<rect x="815" y="60.0" width="4" height="15.5" fill="#000"/>
<rect x="816" y="61.0" width="2" height="13.5" fill="#00ff00"/>
<rect x="825" y="73.7" width="1" height="21.3" fill="#000"/>
<rect x="823" y="76.2" width="4" height="15.5" fill="#000"/>
<rect x="824" y="77.2" width="2" height="13.5" fill="#ff0000"/>
<rect x="832" y="75.7" width="1" height="23.0" fill="#000"/>
<rect x="830" y="86.2" width="4" height="1.3" fill="#000"/>
<rect x="848" y="92.0" width="1" height="25.0" fill="#000"/>
<rect x="846" y="96.2" width="4" height="15.0" fill="#000"/>
<rect x="847" y="97.2" width="2" height="13.0" fill="#ff0000"/>
<rect x="863" y="75.7" width="1" height="38.0" fill="#000"/>
<rect x="861" y="84.2" width="4" height="19.0" fill="#000"/>
<rect x="862" y="85.2" width="2" height="17.0" fill="#00ff00"/>
<rect x="870" y="85.7" width="1" height="11.8" fill="#000"/>
<rect x="868" y="88.0" width="4" height="7.7" fill="#000"/>
<rect x="869" y="89.0" width="2" height="5.7" fill="#ff0000"/>
<rect x="878" y="97.0" width="1" height="7.5" fill="#000"/>
<rect x="876" y="98.2" width="4" height="5.0" fill="#000"/>
<rect x="877" y="99.2" width="2" height="3.0" fill="#ff0000"/>
<rect x="886" y="56.2" width="1" height="47.5" fill="#000"/>
<rect x="884" y="66.2" width="4" height="24.3" fill="#000"/>
<rect x="885" y="67.2" width="2" height="22.3" fill="#00ff00"/>
<rect x="893" y="52.0" width="1" height="13.7" fill="#000"/>
<rect x="891" y="55.5" width="4" height="5.7" fill="#000"/>
<rect x="892" y="56.5" width="2" height="3.7" fill="#00ff00"/>
<rect x="901" y="62.0" width="1" height="36.7" fill="#000"/>
<rect x="899" y="67.0" width="4" height="23.5" fill="#000"/>
<rect x="900" y="68.0" width="2" height="21.5" fill="#ff0000"/>
<rect x="909" y="92.0" width="1" height="6.0" fill="#000"/>
<rect x="907" y="93.2" width="4" height="3.5" fill="#000"/>
<rect x="908" y="94.2" width="2" height="1.5" fill="#ff0000"/>
<rect x="916" y="56.2" width="1" height="40.0" fill="#000"/>
<rect x="914" y="64.5" width="4" height="21.2" fill="#000"/>
<rect x="915" y="65.5" width="2" height="19.2" fill="#00ff00"/>
<rect x="924" y="70.0" width="1" height="32.5" fill="#000"/>
<rect x="922" y="75.5" width="4" height="20.0" fill="#000"/>
<rect x="923" y="76.5" width="2" height="18.0" fill="#ff0000"/>
<rect x="931" y="80.0" width="1" height="15.7" fill="#000"/>
<rect x="929" y="84.2" width="4" height="7.5" fill="#000"/>
<rect x="930" y="85.2" width="2" height="5.5" fill="#00ff00"/>
<rect x="939" y="90.0" width="1" height="31.7" fill="#000"/>
<rect x="937" y="94.5" width="4" height="21.0" fill="#000"/>
<rect x="938" y="95.5" width="2" height="19.0" fill="#ff0000"/>
<rect x="947" y="106.2" width="1" height="9.3" fill="#000"/>
<rect x="945" y="108.0" width="4" height="4.5" fill="#000"/>
<rect x="946" y="109.0" width="2" height="2.5" fill="#00ff00"/>
<rect x="954" y="111.2" width="1" height="15.0" fill="#000"/>
<rect x="952" y="114.5" width="4" height="9.2" fill="#000"/>
<rect x="953" y="115.5" width="2" height="7.2" fill="#ff0000"/>
<rect x="962" y="125.7" width="1" height="8.5" fill="#000"/>
<rect x="960" y="127.5" width="4" height="4.2" fill="#000"/>
<rect x="961" y="128.5" width="2" height="2.2" fill="#ff0000"/>
<rect x="970" y="133.2" width="1" height="4.8" fill="#000"/>
<rect x="968" y="134.5" width="4" height="1.7" fill="#000"/>
<rect x="977" y="119.2" width="1" height="15.8" fill="#000"/>
<rect x="975" y="123.2" width="4" height="8.5" fill="#000"/>
<rect x="976" y="124.2" width="2" height="6.5" fill="#00ff00"/>
<rect x="1000" y="90.0" width="1" height="36.2" fill="#000"/>
<rect x="998" y="97.5" width="4" height="19.2" fill="#000"/>
<rect x="999" y="98.5" width="2" height="17.2" fill="#00ff00"/>
<rect x="838" y="87" width="4" height="1" fill="#000"/>
<rect x="853" y="113" width="4" height="1" fill="#000"/>
<rect x="983" y="122" width="4" height="2" fill="#000"/>
<rect x="990" y="125.2" width="5" height="1.5" fill="#000"/>
<rect x="992" y="123.7" width="1" height="4" fill="#000"/>
</g>
<g class="wa" transform="translate(24.3,371.6) scale(0.695,1)">
<text x="0" y="0" fill="url(#wa)" stroke="url(#wa)" stroke-width="0.8" filter="url(#ext)">CAC 40</text>
</g>
<rect x="836" y="0" width="1" height="454" fill="#0000ff" shape-rendering="crispEdges"/>
<text class="ax" transform="translate(1012.8,8.6) scale(1.040,1)" x="0.00 5.77 8.65 14.42 20.19">3 450</text>
<text class="ax" transform="translate(1012.8,27.6) scale(1.040,1)" x="0.00 5.77 8.65 14.42 20.19">3 400</text>
<text class="ax" transform="translate(1012.8,45.6) scale(1.040,1)" x="0.00 5.77 8.65 14.42 20.19">3 350</text>
<text class="ax" transform="translate(1012.8,64.6) scale(1.040,1)" x="0.00 5.77 8.65 14.42 20.19">3 300</text>
<text class="ax" transform="translate(1012.8,82.6) scale(1.040,1)" x="0.00 5.77 8.65 14.42 20.19">3 250</text>
<text class="ax" transform="translate(1012.8,101.6) scale(1.040,1)" x="0.00 5.77 8.65 14.42 20.19">3 200</text>
<text class="ax" transform="translate(1012.8,119.6) scale(0.994,1)" x="0.00 5.77 8.22 13.56 19.33">3 150</text>
<text class="ax" transform="translate(1012.8,138.6) scale(0.994,1)" x="0.00 5.77 8.22 13.56 19.33">3 100</text>
<text class="ax" transform="translate(1012.8,156.6) scale(1.040,1)" x="0.00 5.77 8.65 14.42 20.19">3 050</text>
<text class="ax" transform="translate(1012.8,175.6) scale(1.040,1)" x="0.00 5.77 8.65 14.42 20.19">3 000</text>
<text class="ax" transform="translate(1012.8,193.6) scale(1.040,1)" x="0.00 5.77 8.65 14.42 20.19">2 950</text>
<text class="ax" transform="translate(1012.8,212.6) scale(1.040,1)" x="0.00 5.77 8.65 14.42 20.19">2 900</text>
<text class="ax" transform="translate(1012.8,230.6) scale(1.040,1)" x="0.00 5.77 8.65 14.42 20.19">2 850</text>
<text class="ax" transform="translate(1012.8,249.6) scale(1.040,1)" x="0.00 5.77 8.65 14.42 20.19">2 800</text>
<text class="ax" transform="translate(1012.8,267.6) scale(1.040,1)" x="0.00 5.77 8.65 14.42 20.19">2 750</text>
<text class="ax" transform="translate(1012.8,286.6) scale(1.040,1)" x="0.00 5.77 8.65 14.42 20.19">2 700</text>
<text class="ax" transform="translate(1012.8,304.6) scale(1.040,1)" x="0.00 5.77 8.65 14.42 20.19">2 650</text>
<text class="ax" transform="translate(1012.8,323.6) scale(1.040,1)" x="0.00 5.77 8.65 14.42 20.19">2 600</text>
<text class="ax" transform="translate(1012.8,341.6) scale(1.040,1)" x="0.00 5.77 8.65 14.42 20.19">2 550</text>
<text class="ax" transform="translate(1012.8,360.6) scale(1.040,1)" x="0.00 5.77 8.65 14.42 20.19">2 500</text>
<text class="ax" transform="translate(1012.8,378.6) scale(1.040,1)" x="0.00 5.77 8.65 14.42 20.19">2 450</text>
<text class="ax" transform="translate(1012.8,397.6) scale(1.040,1)" x="0.00 5.77 8.65 14.42 20.19">2 400</text>
<text class="dt" transform="translate(12,404) rotate(-90) scale(0.949,1)" x="-25.05 -19.71 -13.94 -10.53 -5.19">15/12</text>
<text class="dt" transform="translate(35,404) rotate(-90) scale(0.949,1)" x="-25.05 -19.71 -13.94 -10.53 -5.19">18/12</text>
<text class="dt" transform="translate(57,404) rotate(-90) scale(0.996,1)" x="-25.48 -19.71 -13.94 -10.53 -5.19">23/12</text>
<text class="dt" transform="translate(80,404) rotate(-90) scale(0.996,1)" x="-25.48 -19.71 -13.94 -10.53 -5.19">30/12</text>
<text class="dt" transform="translate(103,404) rotate(-90) scale(0.959,1)" x="-13.94 -8.17 -4.76">5/1</text>
<text class="dt" transform="translate(126,404) rotate(-90) scale(0.959,1)" x="-13.94 -8.17 -4.76">8/1</text>
<text class="dt" transform="translate(149,404) rotate(-90) scale(0.921,1)" x="-19.28 -13.94 -8.17 -4.76">13/1</text>
<text class="dt" transform="translate(172,404) rotate(-90) scale(0.921,1)" x="-19.28 -13.94 -8.17 -4.76">16/1</text>
<text class="dt" transform="translate(195,404) rotate(-90) scale(0.921,1)" x="-18.85 -13.51 -8.17 -4.76">21/1</text>
<text class="dt" transform="translate(218,404) rotate(-90) scale(0.983,1)" x="-19.71 -13.94 -8.17 -4.76">26/1</text>
<text class="dt" transform="translate(240,404) rotate(-90) scale(0.983,1)" x="-19.71 -13.94 -8.17 -4.76">29/1</text>
<text class="dt" transform="translate(263,404) rotate(-90) scale(1.040,1)" x="-14.81 -9.04 -5.19">3/2</text>
<text class="dt" transform="translate(286,404) rotate(-90) scale(1.040,1)" x="-14.81 -9.04 -5.19">6/2</text>
<text class="dt" transform="translate(309,404) rotate(-90) scale(0.921,1)" x="-19.28 -14.37 -9.04 -5.19">11/2</text>
<text class="dt" transform="translate(332,404) rotate(-90) scale(0.983,1)" x="-20.14 -14.81 -9.04 -5.19">16/2</text>
<text class="dt" transform="translate(355,404) rotate(-90) scale(0.983,1)" x="-20.14 -14.81 -9.04 -5.19">19/2</text>
<text class="dt" transform="translate(378,404) rotate(-90) scale(1.040,1)" x="-20.58 -14.81 -9.04 -5.19">24/2</text>
<text class="dt" transform="translate(400,404) rotate(-90) scale(1.040,1)" x="-20.58 -14.81 -9.04 -5.19">27/2</text>
<text class="dt" transform="translate(423,404) rotate(-90) scale(1.040,1)" x="-14.81 -9.04 -5.19">4/3</text>
<text class="dt" transform="translate(446,404) rotate(-90) scale(1.040,1)" x="-14.81 -9.04 -5.19">9/3</text>
<text class="dt" transform="translate(469,404) rotate(-90) scale(0.983,1)" x="-20.14 -14.81 -9.04 -5.19">12/3</text>
<text class="dt" transform="translate(492,404) rotate(-90) scale(0.983,1)" x="-20.14 -14.81 -9.04 -5.19">17/3</text>
<text class="dt" transform="translate(515,404) rotate(-90) scale(1.040,1)" x="-20.58 -14.81 -9.04 -5.19">20/3</text>
<text class="dt" transform="translate(538,404) rotate(-90) scale(1.040,1)" x="-20.58 -14.81 -9.04 -5.19">25/3</text>
<text class="dt" transform="translate(561,404) rotate(-90) scale(1.040,1)" x="-20.58 -14.81 -9.04 -5.19">30/3</text>
<text class="dt" transform="translate(583,404) rotate(-90) scale(1.040,1)" x="-14.81 -9.04 -5.19">2/4</text>
<text class="dt" transform="translate(606,404) rotate(-90) scale(1.040,1)" x="-14.81 -9.04 -5.19">7/4</text>
<text class="dt" transform="translate(629,404) rotate(-90) scale(0.983,1)" x="-20.14 -14.81 -9.04 -5.19">14/4</text>
<text class="dt" transform="translate(652,404) rotate(-90) scale(0.983,1)" x="-20.14 -14.81 -9.04 -5.19">17/4</text>
<text class="dt" transform="translate(675,404) rotate(-90) scale(1.040,1)" x="-20.58 -14.81 -9.04 -5.19">22/4</text>
<text class="dt" transform="translate(698,404) rotate(-90) scale(1.040,1)" x="-20.58 -14.81 -9.04 -5.19">27/4</text>
<text class="dt" transform="translate(721,404) rotate(-90) scale(1.040,1)" x="-20.58 -14.81 -9.04 -5.19">30/4</text>
<text class="dt" transform="translate(744,404) rotate(-90) scale(1.040,1)" x="-14.81 -9.04 -5.19">6/5</text>
<text class="dt" transform="translate(766,404) rotate(-90) scale(0.921,1)" x="-19.28 -14.37 -9.04 -5.19">11/5</text>
<text class="dt" transform="translate(789,404) rotate(-90) scale(0.983,1)" x="-20.14 -14.81 -9.04 -5.19">14/5</text>
<text class="dt" transform="translate(812,404) rotate(-90) scale(0.983,1)" x="-20.14 -14.81 -9.04 -5.19">19/5</text>
<text class="dt" transform="translate(835,404) rotate(-90) scale(1.040,1)" x="-20.58 -14.81 -9.04 -5.19">22/5</text>
<text class="dt" transform="translate(858,404) rotate(-90) scale(1.040,1)" x="-20.58 -14.81 -9.04 -5.19">27/5</text>
<text class="dt" transform="translate(881,404) rotate(-90) scale(0.959,1)" x="-14.37 -9.04 -5.19">1/6</text>
<text class="dt" transform="translate(904,404) rotate(-90) scale(1.040,1)" x="-14.81 -9.04 -5.19">4/6</text>
<text class="dt" transform="translate(927,404) rotate(-90) scale(1.040,1)" x="-14.81 -9.04 -5.19">9/6</text>
<text class="dt" transform="translate(949,404) rotate(-90) scale(0.983,1)" x="-20.14 -14.81 -9.04 -5.19">12/6</text>
<text class="dt" transform="translate(972,404) rotate(-90) scale(0.983,1)" x="-20.14 -14.81 -9.04 -5.19">17/6</text>
<text class="dt" transform="translate(995,404) rotate(-90) scale(1.040,1)" x="-20.58 -14.81 -9.04 -5.19">22/6</text>
<g shape-rendering="crispEdges">
<rect x="5" y="440" width="835" height="1" fill="#777"/>
<rect x="5" y="440" width="1" height="176" fill="#000"/>
<rect x="4" y="458" width="1" height="1" fill="#000"/>
<line x1="5" y1="458.5" x2="840" y2="458.5" stroke="#c0c0c0" stroke-width="1" stroke-dasharray="3 3"/>
<rect x="4" y="476" width="1" height="1" fill="#000"/>
<line x1="5" y1="476.5" x2="840" y2="476.5" stroke="#c0c0c0" stroke-width="1" stroke-dasharray="3 3"/>
<rect x="4" y="494" width="1" height="1" fill="#000"/>
<line x1="5" y1="494.5" x2="840" y2="494.5" stroke="#c0c0c0" stroke-width="1" stroke-dasharray="3 3"/>
<rect x="4" y="512" width="1" height="1" fill="#000"/>
<line x1="5" y1="512.5" x2="840" y2="512.5" stroke="#c0c0c0" stroke-width="1" stroke-dasharray="3 3"/>
<rect x="4" y="530" width="1" height="1" fill="#000"/>
<rect x="4" y="548" width="1" height="1" fill="#000"/>
<line x1="5" y1="548.5" x2="840" y2="548.5" stroke="#c0c0c0" stroke-width="1" stroke-dasharray="3 3"/>
<rect x="4" y="566" width="1" height="1" fill="#000"/>
<line x1="5" y1="566.5" x2="840" y2="566.5" stroke="#c0c0c0" stroke-width="1" stroke-dasharray="3 3"/>
<rect x="4" y="584" width="1" height="1" fill="#000"/>
<line x1="5" y1="584.5" x2="840" y2="584.5" stroke="#c0c0c0" stroke-width="1" stroke-dasharray="3 3"/>
<rect x="4" y="602" width="1" height="1" fill="#000"/>
<line x1="5" y1="602.5" x2="840" y2="602.5" stroke="#c0c0c0" stroke-width="1" stroke-dasharray="3 3"/>
<rect x="5" y="530" width="835" height="1" fill="#000"/>
<rect x="837" y="471" width="1" height="145" fill="#000"/>
</g>
<g fill="none" stroke-width="2.2" stroke-linejoin="round" shape-rendering="crispEdges">
<polyline points="9.5,571.2 16.5,566.5 24.2,563.5 32.0,559.7 39.5,554.7 47.0,541.0 55.0,532.2 62.5,531.5 70.2,531.0 77.2,532.2 85.0,532.5 93.0,532.7 100.2,533.5 108.0,536.0 116.0,536.5 123.2,537.2 131.2,536.5 138.2,535.5 146.0,534.0 150.0,534.0 154.2,537.2 161.5,542.2 169.5,547.2 177.2,556.0 184.5,566.0 192.2,573.5 199.2,582.2 207.0,589.7 210.0,591.0 215.0,591.7 222.0,590.5 230.0,586.7 238.0,584.7 245.2,583.5 253.0,581.7 257.5,581.7 261.0,583.2 268.0,586.7 275.7,586.7 283.2,585.2 291.0,578.5 298.5,571.0 306.2,563.5 313.7,560.5 321.5,555.5 329.0,549.2 336.7,544.2 344.2,544.7 352.0,548.5 359.5,555.5 367.2,563.5 374.7,572.2 382.5,578.5 390.0,583.0 397.7,586.0 405.2,589.0 413.0,591.5 420.5,592.2 428.2,593.0 435.7,593.0 443.5,591.7 451.0,591.0 458.7,591.0 466.2,594.0 474.0,597.2 481.5,599.7 489.2,600.2 496.7,598.5 504.5,596.7 512.0,594.7 519.7,588.0 522.0,585.7 530.7,573.0 537.0,568.5 544.5,563.0 552.0,557.7 559.5,551.0 567.0,546.0 575.7,540.5 584.5,534.7 590.7,529.2 599.5,524.7 608.2,522.7 615.7,521.0 624.5,520.5 632.0,520.2 638.2,519.7 644.5,514.7 650.7,511.0 658.2,508.0 667.0,507.2 677.0,507.2 687.0,506.7 694.5,504.2 700.7,503.0 707.0,503.5 714.5,503.5 722.0,503.0 729.5,503.5 738.2,503.5 745.7,499.7 751.2,497.0 761.2,493.5 769.9,487.4 781.1,487.1 792.3,489.5 798.5,493.5 803.5,494.5 813.5,494.5 816.0,493.9 821.0,493.9 827.2,495.2 837.1,497.0 839.6,498.6" stroke="#2e962e"/>
<polyline points="9.5,506.7 16.5,504.7 24.2,503.0 32.0,502.5 39.5,500.5 47.0,506.0 55.0,511.5 62.5,511.7 70.2,511.7 77.2,513.5 85.0,513.7 93.0,513.5 100.2,511.5 108.0,504.0 116.0,502.2 123.2,501.5 131.2,500.5 138.2,500.0 146.0,499.7 154.2,499.5 161.5,496.5 169.5,493.5 177.2,491.0 184.5,489.5 187.5,489.7 192.2,493.0 199.2,495.5 207.0,500.5 215.0,508.5 222.0,518.5 230.0,528.0 238.0,534.7 245.2,538.0 253.0,541.0 257.5,540.5 261.0,538.0 268.0,528.5 275.7,521.0 283.2,514.7 291.0,509.2 298.5,507.7 306.2,506.7 313.7,506.0 321.5,506.0 329.0,507.7 336.7,511.7 344.2,510.2 352.0,509.7 359.5,508.5 367.2,508.0 374.7,509.0 382.5,511.0 390.0,514.7 397.7,520.5 405.2,527.2 413.0,533.5 420.5,538.5 428.2,544.7 435.7,552.2 443.5,559.7 447.2,561.7 451.0,562.7 458.7,562.2 466.2,556.0 474.0,549.7 481.5,542.2 489.2,532.2 496.7,527.2 504.5,522.2 512.0,516.0 519.7,509.2 522.0,508.0 530.7,506.7 537.0,501.0 544.5,496.0 552.0,492.2 559.5,493.0 567.0,493.0 575.7,493.0 584.5,488.0 594.5,487.2 604.5,487.2 614.5,487.2 624.5,486.0 634.5,486.0 644.5,486.7 654.5,486.7 664.5,488.0 674.5,488.0 684.5,486.0 694.5,483.5 704.5,481.0 714.5,476.0 722.0,473.0 729.5,468.5 737.0,466.0 744.5,464.2 752.0,463.5 759.5,464.0 768.2,466.7 777.0,467.0 782.3,466.5 794.8,463.6 804.8,463.6 807.2,464.9 821.0,465.9 829.7,470.6 839.6,472.1" stroke="#007300"/>
<polyline points="9.5,528.5 16.5,521.7 24.2,521.7 32.0,521.7 39.5,513.5 47.0,519.7 55.0,525.5 62.5,529.7 70.2,524.0 77.2,526.5 85.0,530.0 93.0,519.7 100.2,515.5 108.0,503.5 116.0,507.2 123.2,509.2 131.2,512.2 138.2,516.5 146.0,519.7 154.2,534.2 161.5,542.2 169.5,542.7 177.2,551.0 184.5,561.0 192.2,564.7 199.2,575.5 207.0,581.0 215.0,568.5 222.0,564.7 230.0,549.0 238.0,551.7 245.2,553.5 253.0,553.5 261.0,542.2 268.0,526.5 275.7,529.7 283.2,522.2 291.0,516.7 298.5,521.5 306.2,522.2 313.7,523.0 321.5,526.0 329.0,529.7 336.7,544.7 344.2,545.2 352.0,543.5 355.5,544.0 359.5,549.7 367.2,558.5 374.7,566.7 382.5,571.7 390.0,571.7 397.7,573.5 405.2,579.2 413.0,583.5 415.5,583.5 420.5,574.7 423.2,571.7 428.2,579.7 431.0,583.0 435.7,585.5 438.5,586.0 443.5,586.0 446.0,585.5 451.0,569.7 453.5,566.5 458.7,564.0 462.2,562.2 466.2,555.5 469.2,553.0 474.0,552.2 476.0,551.0 481.5,544.0 485.2,538.5 489.2,538.0 493.5,538.0 496.7,538.5 501.0,538.5 504.5,536.0 508.5,533.5 512.0,528.5 519.7,517.2 522.0,514.7 530.7,516.0 537.0,508.5 544.5,501.0 552.0,501.7 557.0,512.2 561.5,523.0 567.0,516.0 575.7,507.2 584.5,491.5 590.7,494.0 599.5,501.5 604.5,504.0 609.5,504.7 615.7,502.2 623.2,496.7 629.5,496.7 633.2,497.7 638.2,497.7 644.5,493.5 650.7,488.5 653.2,488.5 658.2,498.5 660.7,501.5 667.0,497.2 675.7,492.2 684.5,492.2 692.0,486.7 699.5,484.7 707.0,484.7 714.5,478.0 722.0,475.5 727.0,473.0 738.2,473.0 745.2,468.7 751.8,475.2 762.4,475.2 766.2,478.1 776.1,478.1 782.3,485.8 786.7,489.3 793.5,491.4 799.2,493.3 812.2,480.8 816.0,479.0 821.6,479.0 829.7,490.2 837.1,495.8 839.6,496.4" stroke="#0000ff"/>
<polyline points="9.5,536.7 16.5,534.0 24.2,531.5 32.0,528.5 39.5,524.0 47.0,521.0 55.0,521.0 62.5,522.7 70.2,522.7 77.2,522.7 85.0,522.7 93.0,522.7 100.2,522.2 108.0,520.2 116.0,519.7 123.2,519.2 131.2,517.2 138.2,516.0 146.0,515.5 154.2,516.0 161.5,518.0 169.5,519.7 177.2,523.5 184.5,529.0 192.2,534.7 199.2,542.2 207.0,549.0 215.0,554.7 222.0,558.5 230.0,560.2 238.0,561.0 245.2,561.5 253.0,561.5 261.0,560.5 268.0,556.5 275.7,553.0 283.2,548.0 291.0,541.5 298.5,537.7 306.2,535.5 313.7,533.0 321.5,529.0 329.0,526.5 336.7,525.5 344.2,527.7 352.0,529.0 359.5,531.7 367.2,536.0 374.7,541.5 382.5,546.7 390.0,551.0 397.7,555.5 405.2,560.5 413.0,564.7 420.5,567.7 428.2,571.5 435.7,574.7 443.5,577.2 447.2,577.7 451.0,577.7 458.7,576.7 466.2,574.7 474.0,572.7 481.5,569.7 489.2,565.5 496.7,561.7 504.5,558.0 512.0,553.0 519.7,545.2 522.0,543.0 530.7,537.2 537.0,532.2 544.5,526.5 552.0,521.7 559.5,519.7 567.0,517.2 575.7,514.0 584.5,509.0 594.5,506.5 604.5,504.2 614.5,504.0 624.5,503.5 629.5,503.5 639.5,500.5 649.5,498.0 659.5,497.7 669.5,496.7 679.5,496.0 687.0,495.2 697.0,493.5 707.0,492.2 717.0,488.5 729.5,486.0 740.0,483.1 752.5,479.0 768.6,476.1 782.3,476.1 791.1,477.1 798.5,479.6 809.7,480.8 821.0,482.3 829.7,483.6 839.6,486.1" stroke="#ff0000"/>
</g>
<g shape-rendering="crispEdges">
<rect x="4" y="627" width="836" height="1" fill="#808080"/>
<rect x="4" y="627" width="1" height="179" fill="#808080"/>
<line x1="4.5" y1="627" x2="4.5" y2="806" stroke="#ff00ff" stroke-width="1" stroke-dasharray="3 3"/>
<rect x="3" y="627" width="2" height="1" fill="#ff00ff"/>
<rect x="3" y="646" width="2" height="1" fill="#ff00ff"/>
<rect x="3" y="665" width="2" height="1" fill="#ff00ff"/>
<rect x="3" y="683" width="2" height="1" fill="#ff00ff"/>
<rect x="3" y="702" width="2" height="1" fill="#ff00ff"/>
<rect x="3" y="721" width="2" height="1" fill="#ff00ff"/>
<rect x="3" y="740" width="2" height="1" fill="#ff00ff"/>
<rect x="3" y="759" width="2" height="1" fill="#ff00ff"/>
<rect x="3" y="778" width="2" height="1" fill="#ff00ff"/>
<rect x="3" y="796" width="2" height="1" fill="#ff00ff"/>
<rect x="5" y="722" width="835" height="1" fill="#000"/>
<rect x="5" y="723" width="1" height="1" fill="#000"/>
<rect x="13" y="723" width="1" height="1" fill="#000"/>
<rect x="20" y="723" width="1" height="1" fill="#000"/>
<rect x="28" y="723" width="1" height="1" fill="#000"/>
<rect x="35" y="723" width="1" height="1" fill="#000"/>
<rect x="43" y="723" width="1" height="1" fill="#000"/>
<rect x="51" y="723" width="1" height="1" fill="#000"/>
<rect x="58" y="723" width="1" height="1" fill="#000"/>
<rect x="66" y="723" width="1" height="1" fill="#000"/>
<rect x="74" y="723" width="1" height="1" fill="#000"/>
<rect x="81" y="723" width="1" height="1" fill="#000"/>
<rect x="89" y="723" width="1" height="1" fill="#000"/>
<rect x="96" y="723" width="1" height="1" fill="#000"/>
<rect x="104" y="723" width="1" height="1" fill="#000"/>
<rect x="112" y="723" width="1" height="1" fill="#000"/>
<rect x="119" y="723" width="1" height="1" fill="#000"/>
<rect x="127" y="723" width="1" height="1" fill="#000"/>
<rect x="135" y="723" width="1" height="1" fill="#000"/>
<rect x="142" y="723" width="1" height="1" fill="#000"/>
<rect x="150" y="723" width="1" height="1" fill="#000"/>
<rect x="157" y="723" width="1" height="1" fill="#000"/>
<rect x="165" y="723" width="1" height="1" fill="#000"/>
<rect x="173" y="723" width="1" height="1" fill="#000"/>
<rect x="180" y="723" width="1" height="1" fill="#000"/>
<rect x="188" y="723" width="1" height="1" fill="#000"/>
<rect x="196" y="723" width="1" height="1" fill="#000"/>
<rect x="203" y="723" width="1" height="1" fill="#000"/>
<rect x="211" y="723" width="1" height="1" fill="#000"/>
<rect x="218" y="723" width="1" height="1" fill="#000"/>
<rect x="226" y="723" width="1" height="1" fill="#000"/>
<rect x="234" y="723" width="1" height="1" fill="#000"/>
<rect x="241" y="723" width="1" height="1" fill="#000"/>
<rect x="249" y="723" width="1" height="1" fill="#000"/>
<rect x="257" y="723" width="1" height="1" fill="#000"/>
<rect x="264" y="723" width="1" height="1" fill="#000"/>
<rect x="272" y="723" width="1" height="1" fill="#000"/>
<rect x="279" y="723" width="1" height="1" fill="#000"/>
<rect x="287" y="723" width="1" height="1" fill="#000"/>
<rect x="295" y="723" width="1" height="1" fill="#000"/>
<rect x="302" y="723" width="1" height="1" fill="#000"/>
<rect x="310" y="723" width="1" height="1" fill="#000"/>
<rect x="318" y="723" width="1" height="1" fill="#000"/>
<rect x="325" y="723" width="1" height="1" fill="#000"/>
<rect x="333" y="723" width="1" height="1" fill="#000"/>
<rect x="340" y="723" width="1" height="1" fill="#000"/>
<rect x="348" y="723" width="1" height="1" fill="#000"/>
<rect x="356" y="723" width="1" height="1" fill="#000"/>
<rect x="363" y="723" width="1" height="1" fill="#000"/>
<rect x="371" y="723" width="1" height="1" fill="#000"/>
<rect x="379" y="723" width="1" height="1" fill="#000"/>
<rect x="386" y="723" width="1" height="1" fill="#000"/>
<rect x="394" y="723" width="1" height="1" fill="#000"/>
<rect x="401" y="723" width="1" height="1" fill="#000"/>
<rect x="409" y="723" width="1" height="1" fill="#000"/>
<rect x="417" y="723" width="1" height="1" fill="#000"/>
<rect x="424" y="723" width="1" height="1" fill="#000"/>
<rect x="432" y="723" width="1" height="1" fill="#000"/>
<rect x="439" y="723" width="1" height="1" fill="#000"/>
<rect x="447" y="723" width="1" height="1" fill="#000"/>
<rect x="455" y="723" width="1" height="1" fill="#000"/>
<rect x="462" y="723" width="1" height="1" fill="#000"/>
<rect x="470" y="723" width="1" height="1" fill="#000"/>
<rect x="478" y="723" width="1" height="1" fill="#000"/>
<rect x="485" y="723" width="1" height="1" fill="#000"/>
<rect x="493" y="723" width="1" height="1" fill="#000"/>
<rect x="500" y="723" width="1" height="1" fill="#000"/>
<rect x="508" y="723" width="1" height="1" fill="#000"/>
<rect x="516" y="723" width="1" height="1" fill="#000"/>
<rect x="523" y="723" width="1" height="1" fill="#000"/>
<rect x="531" y="723" width="1" height="1" fill="#000"/>
<rect x="539" y="723" width="1" height="1" fill="#000"/>
<rect x="546" y="723" width="1" height="1" fill="#000"/>
<rect x="554" y="723" width="1" height="1" fill="#000"/>
<rect x="561" y="723" width="1" height="1" fill="#000"/>
<rect x="569" y="723" width="1" height="1" fill="#000"/>
<rect x="577" y="723" width="1" height="1" fill="#000"/>
<rect x="584" y="723" width="1" height="1" fill="#000"/>
<rect x="592" y="723" width="1" height="1" fill="#000"/>
<rect x="600" y="723" width="1" height="1" fill="#000"/>
<rect x="607" y="723" width="1" height="1" fill="#000"/>
<rect x="615" y="723" width="1" height="1" fill="#000"/>
<rect x="622" y="723" width="1" height="1" fill="#000"/>
<rect x="630" y="723" width="1" height="1" fill="#000"/>
<rect x="638" y="723" width="1" height="1" fill="#000"/>
<rect x="645" y="723" width="1" height="1" fill="#000"/>
<rect x="653" y="723" width="1" height="1" fill="#000"/>
<rect x="661" y="723" width="1" height="1" fill="#000"/>
<rect x="668" y="723" width="1" height="1" fill="#000"/>
<rect x="676" y="723" width="1" height="1" fill="#000"/>
<rect x="683" y="723" width="1" height="1" fill="#000"/>
<rect x="691" y="723" width="1" height="1" fill="#000"/>
<rect x="699" y="723" width="1" height="1" fill="#000"/>
<rect x="706" y="723" width="1" height="1" fill="#000"/>
<rect x="714" y="723" width="1" height="1" fill="#000"/>
<rect x="722" y="723" width="1" height="1" fill="#000"/>
<rect x="729" y="723" width="1" height="1" fill="#000"/>
<rect x="737" y="723" width="1" height="1" fill="#000"/>
<rect x="744" y="723" width="1" height="1" fill="#000"/>
<rect x="752" y="723" width="1" height="1" fill="#000"/>
<rect x="760" y="723" width="1" height="1" fill="#000"/>
<rect x="767" y="723" width="1" height="1" fill="#000"/>
<rect x="775" y="723" width="1" height="1" fill="#000"/>
<rect x="782" y="723" width="1" height="1" fill="#000"/>
<rect x="790" y="723" width="1" height="1" fill="#000"/>
<rect x="798" y="723" width="1" height="1" fill="#000"/>
<rect x="805" y="723" width="1" height="1" fill="#000"/>
<rect x="813" y="723" width="1" height="1" fill="#000"/>
<rect x="821" y="723" width="1" height="1" fill="#000"/>
<rect x="828" y="723" width="1" height="1" fill="#000"/>
<rect x="836" y="723" width="1" height="1" fill="#000"/>
<rect x="836" y="661" width="1" height="145" fill="#000"/>
</g>
<g fill="none" stroke-width="2.2" stroke-linejoin="round" shape-rendering="crispEdges">
<polyline points="9.5,785.7 16.5,781.2 24.2,776.2 32.0,769.5 39.5,767.0 47.0,750.5 55.0,750.7 62.5,752.0 70.2,752.0 77.2,752.0 85.0,752.5 93.0,755.0 100.2,757.5 108.0,759.5 116.0,758.2 123.2,756.2 131.2,751.2 138.2,746.2 146.0,741.2 151.2,740.7 154.2,742.5 161.5,752.5 169.5,767.5 177.2,781.2 184.5,790.7 192.2,796.2 199.2,799.2 207.0,799.5 215.0,796.2 222.0,791.2 230.0,783.7 238.0,783.0 245.2,783.0 253.0,781.2 261.0,779.7 268.0,776.2 275.7,771.2 283.2,766.2 291.0,758.7 298.5,753.7 306.2,750.7 313.7,752.0 321.5,754.2 329.0,757.0 336.7,761.2 344.2,766.7 352.0,771.2 359.5,782.5 367.2,791.2 374.7,792.0 382.5,794.2 390.0,795.5 397.7,796.7 405.2,798.2 413.0,799.5 420.5,799.5 428.2,798.2 435.7,796.2 443.5,796.7 451.0,797.0 458.7,797.5 466.2,798.7 474.0,799.5 481.5,801.7 489.2,801.7 496.7,799.5 504.5,797.0 512.0,791.2 519.7,784.5 522.0,783.7 530.7,776.2 537.0,772.0 544.5,765.7 552.0,760.0 559.5,754.5 567.0,751.7 575.7,747.5 584.5,743.7 592.0,742.0 599.5,741.2 608.2,740.0 615.7,739.5 622.0,739.5 629.5,736.2 637.0,735.5 644.5,729.5 652.0,724.5 659.5,718.7 667.0,717.5 674.5,715.5 682.0,713.7 689.5,710.5 697.0,708.7 705.7,705.0 713.2,705.0 722.0,705.0 729.5,705.0 737.0,704.5 743.7,703.7 752.0,700.0 759.9,696.3 768.6,689.1 776.1,685.8 784.8,684.8 792.3,684.8 798.5,687.9 813.5,691.6 821.0,692.9 829.7,694.3 839.6,693.7" stroke="#007800"/>
<polyline points="9.5,719.0 16.5,718.7 24.2,716.2 32.0,712.5 37.5,711.2 39.5,712.0 47.0,724.5 55.0,725.5 62.5,726.7 70.2,726.7 77.2,725.5 85.0,723.7 93.0,713.7 100.2,705.0 108.0,697.5 116.0,691.2 123.2,685.0 131.2,683.0 138.2,683.2 146.0,688.2 154.2,688.7 161.5,687.0 169.5,686.7 177.2,687.0 184.5,690.7 192.2,698.7 199.2,706.2 207.0,717.5 215.0,731.2 222.0,740.0 226.2,741.7 230.0,741.7 238.0,736.7 245.2,732.5 253.0,729.2 261.0,725.0 268.0,722.0 275.7,717.5 283.2,713.7 287.2,713.0 291.0,713.0 298.5,717.5 306.2,721.7 313.7,721.2 321.5,720.5 329.0,720.0 336.7,720.0 344.2,720.5 352.0,721.5 359.5,721.7 367.2,725.0 374.7,732.0 382.5,737.5 390.0,742.5 397.7,748.0 405.2,752.5 413.0,758.0 420.5,763.0 428.2,766.2 435.7,770.0 439.7,770.7 446.0,770.7 451.0,768.2 458.7,767.5 466.2,764.5 474.0,759.5 477.2,756.7 481.5,747.5 484.7,743.7 489.2,740.0 496.7,735.0 504.5,727.5 512.0,722.0 519.7,719.2 522.0,718.9 530.7,715.0 537.0,708.2 544.5,706.2 552.0,706.2 559.5,709.5 567.0,709.5 575.7,708.2 584.5,707.0 592.0,703.7 599.5,700.0 608.2,698.0 615.7,697.5 622.0,695.5 629.5,688.7 638.2,681.7 644.5,681.2 650.7,678.0 653.2,678.0 658.2,681.2 667.0,681.7 674.5,681.2 682.0,679.2 689.5,678.0 697.0,675.0 705.7,675.7 713.2,674.5 722.0,671.2 729.5,666.2 737.0,658.7 740.0,653.6 743.7,648.9 753.7,644.3 759.3,640.9 761.8,640.9 768.6,643.0 782.3,643.0 789.8,645.8 804.8,647.4 813.5,649.9 821.0,650.1 828.4,655.1 835.9,658.0 839.6,661.7" stroke="#007800"/>
<polyline points="9.5,742.5 16.5,738.0 24.2,736.7 32.0,736.2 39.5,726.2 47.0,738.7 55.0,747.5 62.5,747.5 70.2,745.0 77.2,732.5 85.0,728.7 93.0,713.7 100.2,708.0 108.0,701.2 116.0,707.5 123.2,703.7 131.2,713.7 138.2,721.2 146.0,728.7 154.2,745.0 161.5,755.0 169.5,761.2 177.2,763.7 184.5,770.7 192.2,766.7 199.2,768.7 207.0,773.7 215.0,761.2 222.0,757.5 230.0,738.7 238.0,738.2 245.2,740.0 253.0,747.5 261.0,740.7 268.0,737.5 275.7,734.5 283.2,725.7 291.0,722.0 294.7,727.5 298.5,735.0 306.2,742.5 313.7,746.7 321.5,748.2 329.0,752.5 336.7,757.5 344.2,758.7 352.0,758.7 359.5,776.2 363.5,780.0 369.0,781.7 374.7,778.7 382.5,780.0 386.0,779.2 392.2,775.0 399.7,775.0 405.2,784.5 408.5,788.2 414.2,788.7 420.5,780.0 423.0,778.7 428.2,788.7 431.0,791.7 436.0,791.7 443.5,787.5 448.5,780.0 453.5,770.0 460.2,775.0 466.2,767.5 476.0,760.0 481.5,748.7 483.5,745.0 492.2,749.5 499.7,749.5 507.2,742.5 513.5,737.5 522.0,729.0 530.7,727.5 537.0,720.0 548.2,720.0 553.2,722.0 560.7,740.7 567.0,733.0 575.7,728.7 583.2,711.2 590.7,710.0 598.2,705.0 602.0,705.7 607.0,709.5 623.2,709.5 629.5,701.2 638.2,693.7 644.5,690.0 652.0,683.0 655.7,691.2 659.5,700.0 669.5,700.0 674.5,693.7 678.2,693.7 684.5,695.0 697.0,680.5 699.5,680.5 705.7,685.0 709.5,683.7 720.7,674.5 729.5,670.5 737.0,667.0 740.0,660.5 743.7,653.0 746.2,653.0 751.8,657.0 760.5,651.8 767.6,664.2 771.0,664.6 775.5,667.3 783.0,677.5 789.8,677.9 798.5,684.1 809.7,674.8 816.0,672.0 821.0,668.6 823.5,669.8 827.2,674.8 834.6,680.4 839.6,683.8" stroke="#000"/>
<polyline points="9.5,751.7 16.5,749.2 24.2,746.2 32.0,741.7 39.5,738.7 47.0,737.5 55.0,738.7 62.5,739.5 70.2,740.0 77.2,738.7 85.0,737.5 93.0,734.5 100.2,731.2 108.0,728.7 116.0,725.7 123.2,720.0 131.2,716.7 138.2,714.2 146.0,713.7 154.2,715.7 161.5,720.0 169.5,726.2 177.2,733.7 184.5,741.7 192.2,748.7 199.2,755.0 207.0,760.5 215.0,763.2 222.0,763.7 230.0,762.0 238.0,760.0 245.2,757.5 253.0,755.0 261.0,753.1 268.0,748.7 275.7,744.2 283.2,740.0 291.0,736.2 298.5,735.5 306.2,736.2 313.7,736.7 321.5,738.0 329.0,738.7 336.7,740.7 344.2,743.7 352.0,747.5 359.5,753.2 367.2,759.2 374.7,762.5 382.5,766.2 390.0,769.5 397.7,772.0 405.2,775.0 413.0,778.0 420.5,780.0 428.2,782.0 435.7,783.2 443.5,783.7 451.0,783.0 458.7,782.0 466.2,781.7 474.0,778.7 481.5,775.0 489.2,770.7 496.7,767.0 504.5,762.0 512.0,756.2 519.7,752.5 522.0,751.3 530.7,745.0 537.0,740.7 544.5,735.5 552.0,733.7 559.5,732.0 567.0,730.0 575.7,727.5 584.5,724.5 592.0,723.0 599.5,721.2 608.2,719.2 615.7,718.2 622.0,717.5 629.5,712.5 637.0,708.7 644.5,705.0 652.0,701.7 655.7,700.5 669.5,700.0 679.5,697.5 689.5,695.0 699.5,691.2 712.0,689.5 722.0,688.7 729.5,686.2 737.0,683.0 740.0,679.8 747.5,673.5 761.2,667.6 768.6,665.5 778.6,663.8 789.8,664.8 798.5,666.7 809.7,669.4 821.0,671.7 834.6,676.0 839.6,677.0" stroke="#ff0000"/>
</g>
<g shape-rendering="crispEdges">
<rect x="835" y="661" width="1" height="145" fill="#fff"/>
<rect x="836" y="661" width="1" height="145" fill="#000"/>
<rect x="1042" y="636" width="2" height="1" fill="#444"/>
<rect x="1043" y="645" width="1" height="1" fill="#b0b0b0"/>
<rect x="1043" y="662" width="1" height="1" fill="#b0b0b0"/>
<rect x="1043" y="679" width="1" height="1" fill="#b0b0b0"/>
<rect x="1043" y="696" width="1" height="1" fill="#b0b0b0"/>
<rect x="1043" y="747" width="1" height="1" fill="#b0b0b0"/>
<rect x="1043" y="764" width="1" height="1" fill="#b0b0b0"/>
<rect x="1043" y="782" width="1" height="1" fill="#b0b0b0"/>
<rect x="1043" y="799" width="1" height="1" fill="#b0b0b0"/>
<rect x="1043" y="713" width="1" height="2" fill="#222"/>
<rect x="1043" y="730" width="1" height="2" fill="#222"/>
<rect x="1009" y="803" width="1" height="3" fill="#333"/>
</g>
</svg></body></html>
